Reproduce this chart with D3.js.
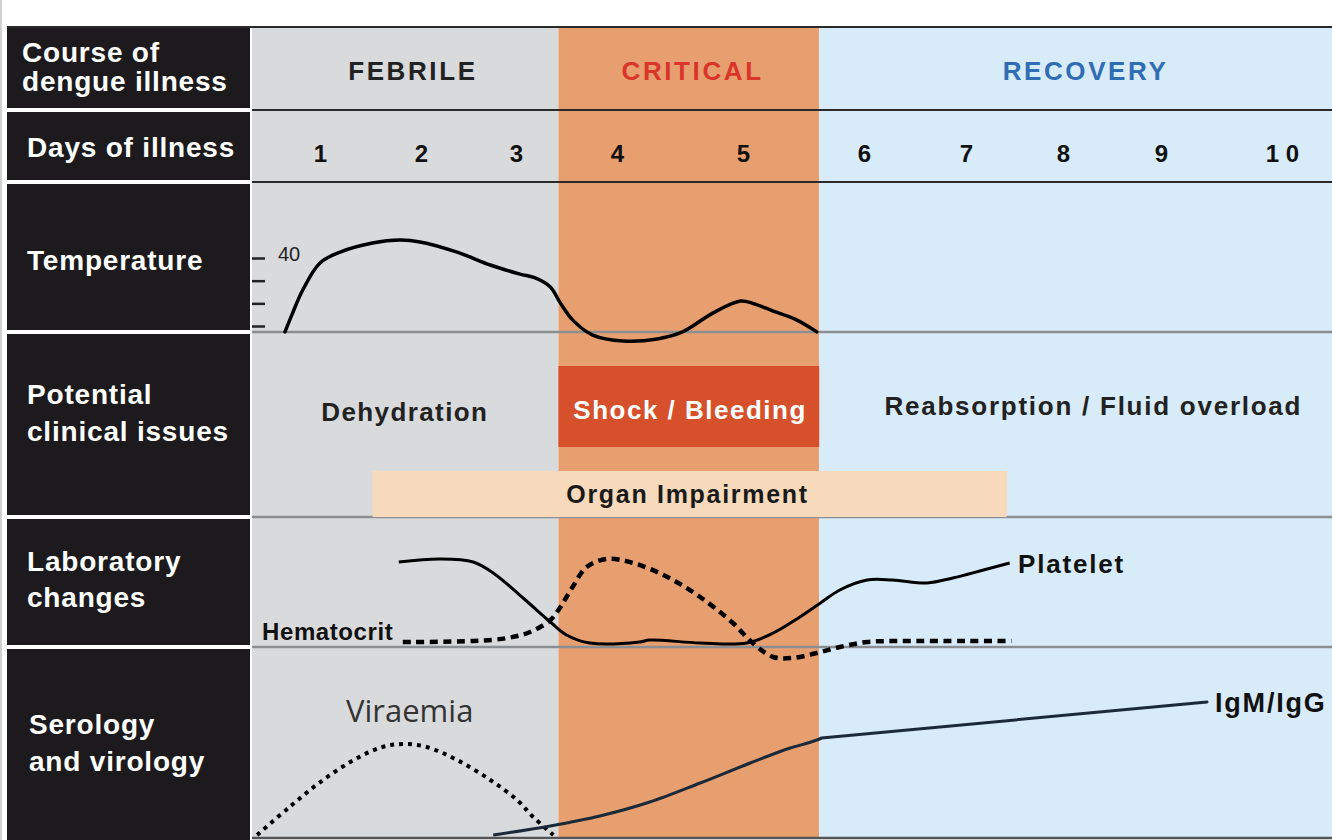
<!DOCTYPE html>
<html>
<head>
<meta charset="utf-8">
<script src="https://cdn.jsdelivr.net/npm/d3@7"></script>
<style>
  body { margin: 0; background: #fff; }
  svg { display: block; font-family: "Liberation Sans", Arial, sans-serif; }
</style>
</head>
<body>
<svg id="chart" width="1332" height="840"></svg>
<script>
// ---- data ----
const dayTicks = [1, 2, 3, 4, 5, 6, 7, 8, 9, 10];
const dayLabels = ['1', '2', '3', '4', '5', '6', '7', '8', '9', '1 0'];

const phaseNames = ['FEBRILE', 'CRITICAL', 'RECOVERY'];
const phaseStart = [0.33, 3.42, 5.63];
const phaseEnd = [3.42, 5.63, 10.41];
const phaseLabelDay = [1.92, 4.6, 8.23];

const tempTicks = [37, 38, 39, 40];

// [day, °C]
const temperature = [
  [0.655, 36.74], [0.73, 37.57], [0.83, 38.59], [1.0, 39.78], [1.2, 40.26],
  [1.52, 40.66], [1.79, 40.79], [1.99, 40.71], [2.38, 40.26], [2.73, 39.69],
  [3.04, 39.29], [3.19, 39.12], [3.34, 38.72], [3.44, 38.01], [3.56, 37.27],
  [3.76, 36.6], [4.05, 36.34], [4.32, 36.43], [4.52, 36.74], [4.76, 37.57],
  [4.98, 38.1], [5.08, 38.0], [5.25, 37.66], [5.43, 37.3], [5.61, 36.74]
];

// [day, relative level]
const platelet = [
  [1.78, 85], [2.2, 88], [2.55, 85], [2.76, 74], [3.07, 49], [3.34, 25],
  [3.5, 12], [3.73, 4], [4.18, 5], [4.26, 7], [4.66, 4], [5.03, 4],
  [5.25, 14], [5.47, 30], [5.64, 44], [5.8, 57], [6.03, 67], [6.28, 67],
  [6.62, 64], [6.87, 69], [7.18, 77], [7.45, 84]
];

const hematocrit = [
  [1.82, 5], [2.55, 6], [2.91, 9], [3.14, 15], [3.34, 27], [3.44, 40],
  [3.56, 60], [3.7, 80], [3.9, 88], [4.13, 84], [4.4, 70], [4.66, 50],
  [4.92, 24], [5.08, 4], [5.25, -10], [5.41, -11], [5.61, -6], [5.8, 0],
  [6.03, 5], [6.35, 6], [7.01, 6], [7.47, 6]
];

const viraemia = [
  [0.38, 3], [0.7, 31], [1.03, 58], [1.37, 80], [1.62, 91], [1.82, 94],
  [2.06, 91], [2.38, 78], [2.73, 58], [3.01, 38], [3.17, 21], [3.37, 3]
];

// rising curve during the critical phase, then a straight rise
const igmRise = [
  [2.76, 3], [3.34, 12], [3.83, 22], [4.26, 36], [4.66, 55], [5.06, 75],
  [5.39, 90], [5.61, 98], [5.65, 100]
];
const igmPlateau = [[5.65, 100], [9.38, 136]];

const rowLabels = [
  ['Course of', 'dengue illness'],
  ['Days of illness'],
  ['Temperature'],
  ['Potential', 'clinical issues'],
  ['Laboratory', 'changes'],
  ['Serology', 'and virology']
];

const organSpan = [1.52, 7.42];

// ---- layout ----
const W = 1332, H = 840;
const leftX = 7, leftW = 243, contentX = 252;
const rowTop = [27, 110, 182, 332, 517, 647];
const rowBot = [110, 182, 332, 517, 647, 838];
const labelBase = [[62, 91], [157], [270], [404, 441], [571, 607], [734, 771]];
const phaseFill = ['#d9dadb', '#e89f70', '#d8ebf8'];
const phaseText = ['#222222', '#d9352a', '#2f6db5'];

const svg = d3.select('#chart');

// piecewise day scale (day columns are not evenly spaced in the original)
const x = d3.scaleLinear()
  .domain([0.33, ...dayTicks, 10.41])
  .range([252, 320, 421, 516, 617, 743, 864, 966, 1063, 1161, 1282, 1332]);

const yTemp = d3.scaleLinear().domain([37, 40]).range([326, 258]);
const yLab = d3.scaleLinear().domain([0, 100]).range([647, 547]);
const ySero = d3.scaleLinear().domain([0, 100]).range([838, 738]);

// thin grey edge at far left
svg.append('rect').attr('x', 0).attr('y', 0).attr('width', 2).attr('height', H).attr('fill', '#d0d0d0');

// phase bands
svg.append('g').selectAll('rect')
  .data(phaseNames)
  .join('rect')
  .attr('x', (d, i) => x(phaseStart[i]))
  .attr('y', rowTop[0])
  .attr('width', (d, i) => x(phaseEnd[i]) - x(phaseStart[i]))
  .attr('height', rowBot[5] - rowTop[0])
  .attr('fill', (d, i) => phaseFill[i]);

// left black column cells
svg.append('g').selectAll('rect')
  .data(rowLabels)
  .join('rect')
  .attr('x', leftX)
  .attr('y', (d, i) => rowTop[i] + (i === 0 ? 1 : 2))
  .attr('width', leftW)
  .attr('height', (d, i) => rowBot[i] - rowTop[i] - (i === 0 ? 3 : 4) + (i === 5 ? 4 : 0))
  .attr('fill', '#1c1a1d');

// row separator lines
const lineColor = ['#2a2a2a', '#2a2a2a', '#2a2a2a', '#8b8f92', '#8b8f92', '#8b8f92', '#555'];
const lineY = [rowTop[0], ...rowBot];
svg.append('g').selectAll('line')
  .data(lineY)
  .join('line')
  .attr('x1', (d, i) => i === 0 ? leftX : contentX)
  .attr('x2', W)
  .attr('y1', d => d).attr('y2', d => d)
  .attr('stroke', (d, i) => lineColor[i])
  .attr('stroke-width', (d, i) => i < 3 ? 2 : 2.5);

// left labels
const lbl = svg.append('g')
  .attr('fill', '#fff')
  .attr('font-weight', 'bold')
  .attr('font-size', 28)
  .attr('letter-spacing', 0.8);
rowLabels.forEach((lines, i) => {
  lines.forEach((t, j) => {
    lbl.append('text')
      .attr('x', i === 0 ? 22 : (i === 5 ? 29 : 27))
      .attr('y', labelBase[i][j])
      .text(t);
  });
});

// phase titles
svg.append('g').selectAll('text')
  .data(phaseNames)
  .join('text')
  .attr('x', (d, i) => x(phaseLabelDay[i]))
  .attr('y', 80)
  .attr('text-anchor', 'middle')
  .attr('font-weight', 'bold')
  .attr('font-size', 26)
  .attr('letter-spacing', 2.6)
  .attr('fill', (d, i) => phaseText[i])
  .text(d => d);

// days axis
const dayAxis = d3.axisBottom(x)
  .tickValues(dayTicks)
  .tickSize(0)
  .tickPadding(0)
  .tickFormat((d, i) => dayLabels[i]);
const dayG = svg.append('g').attr('transform', 'translate(0,144)').call(dayAxis);
dayG.select('.domain').remove();
dayG.selectAll('text')
  .attr('font-family', '"Liberation Sans", Arial, sans-serif')
  .attr('font-size', 24)
  .attr('font-weight', 'bold')
  .attr('fill', '#111')
  .attr('dy', '0.75em');

// temperature axis
const tempAxis = d3.axisRight(yTemp)
  .tickValues(tempTicks)
  .tickSize(13)
  .tickPadding(13)
  .tickFormat(d => d === 40 ? '40' : '');
const tG = svg.append('g').attr('transform', `translate(${contentX},0)`).call(tempAxis);
tG.select('.domain').remove();
tG.selectAll('line').attr('stroke', '#222').attr('stroke-width', 2.5);
tG.selectAll('text')
  .attr('font-family', '"Liberation Sans", Arial, sans-serif')
  .attr('font-size', 20)
  .attr('fill', '#222')
  .attr('dy', '0.1em');

// clinical issues
svg.append('rect')
  .attr('x', x(phaseStart[1]))
  .attr('y', 366)
  .attr('width', x(phaseEnd[1]) - x(phaseStart[1]))
  .attr('height', 81)
  .attr('fill', '#d6502b');

svg.append('rect')
  .attr('x', x(organSpan[0]))
  .attr('y', 471)
  .attr('width', x(organSpan[1]) - x(organSpan[0]))
  .attr('height', 46)
  .attr('fill', '#f7d9bb');

const issue = svg.append('g')
  .attr('font-weight', 'bold')
  .attr('text-anchor', 'middle');
issue.append('text').attr('x', x(1.84)).attr('y', 421)
  .attr('font-size', 26).attr('letter-spacing', 1.4).attr('fill', '#222').text('Dehydration');
issue.append('text').attr('x', x(4.58)).attr('y', 419)
  .attr('font-size', 26).attr('letter-spacing', 1.5).attr('fill', '#fff').text('Shock / Bleeding');
issue.append('text').attr('x', x(8.31)).attr('y', 415)
  .attr('font-size', 26).attr('letter-spacing', 1.75).attr('fill', '#222').text('Reabsorption / Fluid overload');
issue.append('text').attr('x', x(4.56)).attr('y', 503)
  .attr('font-size', 25).attr('letter-spacing', 1.7).attr('fill', '#1a1a1a').text('Organ Impairment');

// curves
const lineGen = (ys, curve) => d3.line()
  .x(d => x(d[0]))
  .y(d => ys(d[1]))
  .curve(curve);

svg.append('path')
  .datum(temperature)
  .attr('d', lineGen(yTemp, d3.curveCatmullRom.alpha(0.5)))
  .attr('fill', 'none')
  .attr('stroke', '#000')
  .attr('stroke-width', 3.5)
  .attr('stroke-linecap', 'round');

svg.append('path')
  .datum(platelet)
  .attr('d', lineGen(yLab, d3.curveCatmullRom.alpha(0.5)))
  .attr('fill', 'none')
  .attr('stroke', '#000')
  .attr('stroke-width', 3);

svg.append('path')
  .datum(hematocrit)
  .attr('d', lineGen(yLab, d3.curveCatmullRom.alpha(0.5)))
  .attr('fill', 'none')
  .attr('stroke', '#000')
  .attr('stroke-width', 4.5)
  .attr('stroke-dasharray', '8,5.5');

svg.append('path')
  .datum(viraemia)
  .attr('d', lineGen(ySero, d3.curveCatmullRom.alpha(0.5)))
  .attr('fill', 'none')
  .attr('stroke', '#000')
  .attr('stroke-width', 4)
  .attr('stroke-dasharray', '4,5');

svg.append('path')
  .datum(igmRise)
  .attr('d', lineGen(ySero, d3.curveMonotoneX))
  .attr('fill', 'none')
  .attr('stroke', '#1b2a3a')
  .attr('stroke-width', 3);

svg.append('path')
  .datum(igmPlateau)
  .attr('d', lineGen(ySero, d3.curveLinear))
  .attr('fill', 'none')
  .attr('stroke', '#1b2a3a')
  .attr('stroke-width', 3)
  .attr('stroke-linecap', 'round');

// series labels
const ser = svg.append('g');
ser.append('text').attr('x', 1018).attr('y', 573)
  .attr('font-weight', 'bold').attr('font-size', 26).attr('letter-spacing', 1.8)
  .attr('fill', '#111').text('Platelet');
ser.append('text').attr('x', 262).attr('y', 640)
  .attr('font-weight', 'bold').attr('font-size', 24).attr('letter-spacing', 0.6)
  .attr('fill', '#111').text('Hematocrit');
ser.append('text').attr('x', 346).attr('y', 722)
  .attr('font-family', '"Open Sans", sans-serif').attr('font-size', 31)
  .attr('fill', '#333').text('Viraemia');
ser.append('text').attr('x', 1215).attr('y', 712)
  .attr('font-weight', 'bold').attr('font-size', 27).attr('letter-spacing', 1.8)
  .attr('fill', '#111').text('IgM/IgG');
</script>
</body>
</html>
